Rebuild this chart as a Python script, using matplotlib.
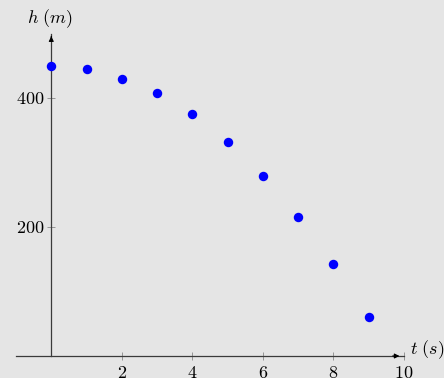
import matplotlib
matplotlib.use("Agg")
import matplotlib.pyplot as plt

t_values = [0, 1, 2, 3, 4, 5, 6, 7, 8, 9]
h_values = [450, 445, 430, 408, 375, 332, 279, 216, 143, 61]
x_ticks = [2, 4, 6, 8, 10]
y_ticks = [200, 400]

plt.rcParams['mathtext.fontset'] = 'cm'
plt.rcParams['font.family'] = 'serif'
plt.rcParams['font.serif'] = ['cmr10', 'DejaVu Serif']
plt.rcParams['axes.formatter.use_mathtext'] = True

W, H = 444, 378
fig = plt.figure(figsize=(W / 100, H / 100), dpi=100)
bg = '#e5e5e5'
fig.patch.set_facecolor(bg)

left_px, right_px = 16, 404
bottom_px, top_px = 356, 33.5
ax = fig.add_axes([left_px / W, 1 - bottom_px / H,
                   (right_px - left_px) / W, (bottom_px - top_px) / H])
ax.set_facecolor(bg)
ax.set_xlim(-1, 10)
ax.set_ylim(0, 500)

axcol = '#3a3a3a'
for s in ['top', 'right']:
    ax.spines[s].set_visible(False)
ax.spines['left'].set_position(('data', 0))
ax.spines['bottom'].set_position(('data', 0))
for s in ['left', 'bottom']:
    ax.spines[s].set_color(axcol)
    ax.spines[s].set_linewidth(0.9)

ax.annotate('', xy=(9.95, 0), xytext=(9.6, 0),
            arrowprops=dict(arrowstyle='-|>', color='black', lw=0.8,
                            mutation_scale=7), annotation_clip=False)
ax.annotate('', xy=(0, 500), xytext=(0, 490),
            arrowprops=dict(arrowstyle='-|>', color='black', lw=0.8,
                            mutation_scale=7), annotation_clip=False)

ax.set_xticks(x_ticks)
ax.set_xticklabels([f'${v}$' for v in x_ticks])
ax.set_yticks(y_ticks)
ax.set_yticklabels([f'${v}$' for v in y_ticks])
ax.tick_params(direction='inout', length=6, width=0.6, colors='#888888',
               labelcolor='black', labelsize=13)
ax.tick_params(axis='x', pad=3.5)
ax.tick_params(axis='y', pad=2)

ax.plot(t_values, h_values, 'o', color='#0000ff', markersize=6.8,
        markeredgewidth=0, clip_on=False, zorder=5)

fig.text(50 / W, 1 - 18.5 / H, r'$h\ (m)$', fontsize=13, ha='center', va='center')
fig.text(410 / W, 1 - 350 / H, r'$t\ (s)$', fontsize=13, ha='left', va='center')

fig.savefig('out.png', dpi=100, facecolor=bg)
